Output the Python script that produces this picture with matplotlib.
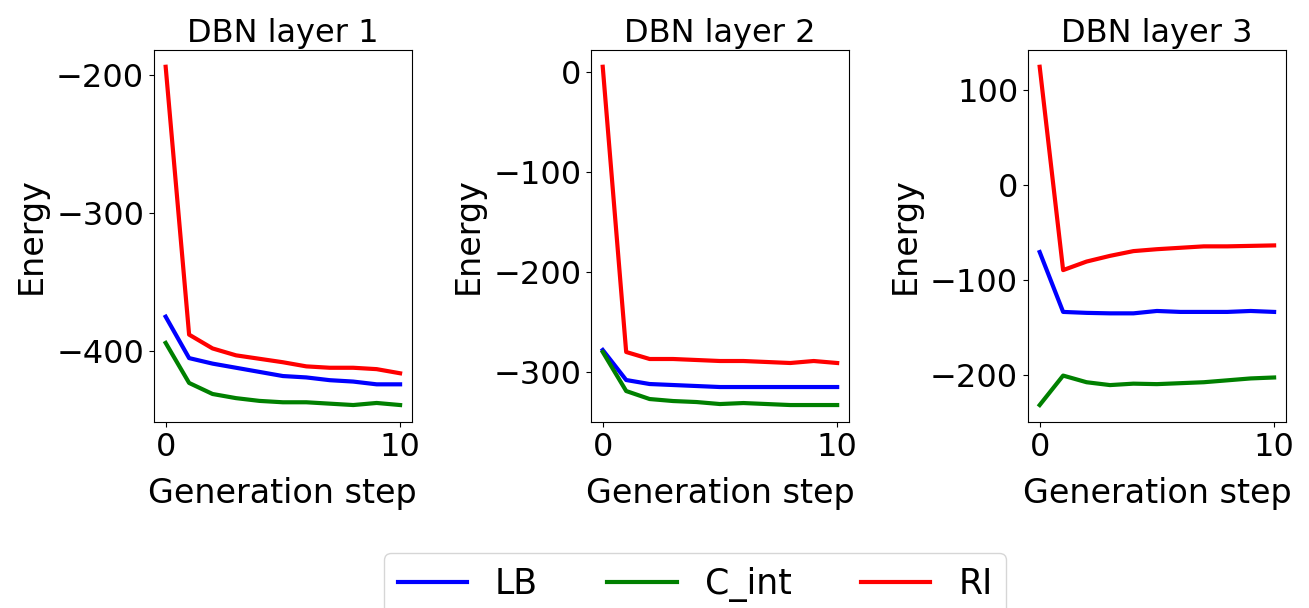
import matplotlib
matplotlib.use('Agg')
from matplotlib import pyplot as plt
from matplotlib.ticker import MultipleLocator

steps = list(range(11))

# DBN layer 1
lb1 = [-375, -405, -409, -412, -415, -418, -419, -421, -422, -424, -424]
cint1 = [-394, -423, -431, -434, -436, -437, -437, -438, -439, -437.5, -439]
ri1 = [-194, -388, -398, -403, -405.5, -408, -411, -412, -412, -413, -416]

# DBN layer 2
lb2 = [-278, -308, -312, -313, -314, -315, -315, -315, -315, -315, -315]
cint2 = [-280, -319, -327, -329, -330, -332, -331, -332, -333, -333, -333]
ri2 = [5, -280, -287, -287, -288, -289, -289, -290, -291, -289, -291]

# DBN layer 3
lb3 = [-71, -134, -135, -135.5, -135.5, -133, -134, -134, -134, -133, -134]
cint3 = [-232, -201, -208, -211, -209.5, -210, -209, -208, -206, -204, -203]
ri3 = [124, -90, -81, -75, -70, -68, -66.5, -65, -65, -64.5, -64]

titles = ['DBN layer 1', 'DBN layer 2', 'DBN layer 3']
data = [(lb1, cint1, ri1), (lb2, cint2, ri2), (lb3, cint3, ri3)]

fig = plt.figure(figsize=(13.09, 6.08), dpi=100)
lefts = [0.1176, 0.4515, 0.7853]
for left, title, (lb, cint, ri) in zip(lefts, titles, data):
    ax = fig.add_axes([left, 0.306, 0.197, 0.612])
    ax.plot(steps, lb, color='blue', lw=3, label='LB')
    ax.plot(steps, cint, color='green', lw=3, label='C_int')
    ax.plot(steps, ri, color='red', lw=3, label='RI')
    ax.set_title(title, fontsize=23)
    ax.set_xlabel('Generation step', fontsize=24, labelpad=10)
    ax.set_ylabel('Energy', fontsize=24, labelpad=6)
    ax.set_xticks([0, 10])
    ax.yaxis.set_major_locator(MultipleLocator(100))
    ax.tick_params(labelsize=23)

handles, labels = ax.get_legend_handles_labels()
fig.legend(handles, labels, loc='upper center', bbox_to_anchor=(0.531, 0.0905),
           borderaxespad=0, ncol=3, fontsize=25, columnspacing=2.0)

fig.savefig('out.png', dpi=100)
